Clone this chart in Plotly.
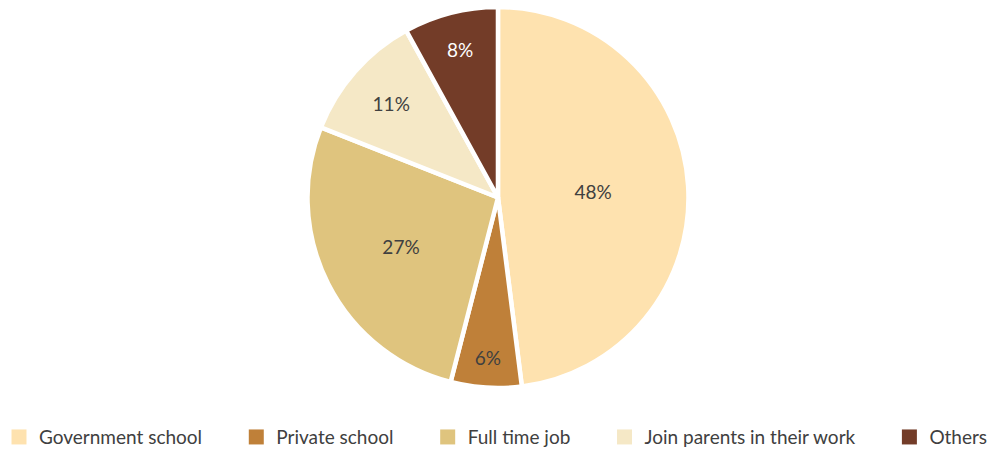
import plotly.graph_objects as go

categories = ["Government school", "Private school", "Full time job",
              "Join parents in their work", "Others"]
shares = [48, 6, 27, 11, 8]
slice_colors = ["#FEE2AF", "#BF8039", "#DFC47E", "#F5E8C6", "#733C28"]
label_colors = ["#404040", "#404040", "#404040", "#404040", "#FFFFFF"]

FONT = "Lato, Open Sans, sans-serif"

fig = go.Figure()

fig.add_trace(
    go.Pie(
        labels=categories,
        values=shares,
        sort=False,
        direction="clockwise",
        rotation=0,
        domain=dict(x=[0.004, 1.0], y=[0.0, 1.0]),
        marker=dict(colors=slice_colors, line=dict(color="white", width=4.5)),
        texttemplate="%{value}%",
        textposition="inside",
        insidetextorientation="horizontal",
        textfont=dict(family=FONT, size=19, color=label_colors),
        hoverinfo="label+percent",
        showlegend=False,
    )
)

# Legend entries with larger square swatches
pad = "\u00a0" * 6
for i, (name, color) in enumerate(zip(categories, slice_colors)):
    fig.add_trace(
        go.Scatter(
            x=[None],
            y=[None],
            mode="markers",
            name=name + (pad if i < len(categories) - 1 else ""),
            marker=dict(symbol="square", size=15, color=color),
            hoverinfo="skip",
        )
    )

fig.update_layout(
    width=992,
    height=449,
    margin=dict(l=0, r=0, t=7, b=61, autoexpand=False),
    paper_bgcolor="white",
    plot_bgcolor="white",
    showlegend=True,
    xaxis=dict(visible=False),
    yaxis=dict(visible=False),
    legend=dict(
        orientation="h",
        x=0.5,
        xanchor="center",
        y=-0.079,
        yanchor="top",
        font=dict(family=FONT, size=19, color="#404040"),
        itemclick=False,
        itemdoubleclick=False,
    ),
)

fig.write_html("out.html")
